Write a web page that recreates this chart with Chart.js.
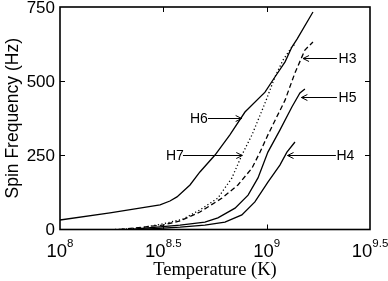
<!DOCTYPE html>
<html>
<head>
<meta charset="utf-8">
<script src="https://cdn.jsdelivr.net/npm/chart.js@4/dist/chart.umd.min.js"></script>
<style>
  html, body { margin: 0; padding: 0; background: #fff; }
  #wrap { width: 388px; height: 281px; }
</style>
</head>
<body>
<div id="wrap"><canvas id="chart" width="388" height="281"></canvas></div>
<script>
// x values are log10 of temperature in K, y values are spin frequency in Hz
const h6Temp = [8.0, 8.242, 8.484, 8.532, 8.566, 8.629, 8.677, 8.75, 8.822, 8.895, 8.992, 9.04, 9.089, 9.122, 9.147, 9.224];
const h6Freq = [32, 56, 83, 96, 110, 150, 194, 251, 319, 396, 463, 514, 565, 615, 642, 733];

const h7Temp = [8.266, 8.387, 8.498, 8.595, 8.677, 8.764, 8.832, 8.88, 8.929, 8.992, 9.04, 9.079, 9.122, 9.142];
const h7Freq = [0, 5, 19, 35, 66, 106, 174, 251, 319, 426, 514, 571, 615, 628];

const h3Temp = [8.29, 8.498, 8.581, 8.677, 8.784, 8.861, 8.929, 8.968, 9.006, 9.089, 9.137, 9.185, 9.224];
const h3Freq = [0, 15, 29, 59, 106, 150, 207, 261, 319, 436, 528, 605, 632];

const h5Temp = [8.339, 8.581, 8.701, 8.764, 8.847, 8.91, 8.958, 9.006, 9.064, 9.122, 9.161, 9.185];
const h5Freq = [0, 15, 25, 39, 72, 116, 174, 261, 335, 413, 460, 474];

const h4Temp = [8.387, 8.581, 8.701, 8.798, 8.88, 8.943, 9.006, 9.064, 9.098, 9.137];
const h4Freq = [0, 8, 15, 25, 49, 93, 160, 217, 261, 295];

const xTicks = [8, 8.5, 9, 9.5];
const xTickExp = ['8', '8.5', '9', '9.5'];
const yTicks = [0, 250, 500, 750];

// labels with arrows: text position, arrow start and end (log10 K), height (Hz)
const notes = [
  { name: 'H6', tx: 8.672, from: 8.716, to: 8.879, y: 375 },
  { name: 'H7', tx: 8.556, from: 8.595, to: 8.882, y: 250 },
  { name: 'H3', tx: 9.391, from: 9.340, to: 9.176, y: 577 },
  { name: 'H5', tx: 9.391, from: 9.340, to: 9.168, y: 446 },
  { name: 'H4', tx: 9.381, from: 9.335, to: 9.101, y: 250 }
];

const pts = (xs, ys) => xs.map((x, i) => ({ x: x, y: ys[i] }));

const line = (label, xs, ys, dash) => ({
  label: label,
  data: pts(xs, ys),
  borderColor: '#000',
  borderWidth: 1.3,
  borderDash: dash,
  pointRadius: 0,
  fill: false,
  tension: 0
});

const sans = '"Liberation Sans", Arial, sans-serif';

const frame = {
  id: 'frame',
  afterDraw(chart) {
    const { ctx, chartArea: a, scales: { x, y } } = chart;
    ctx.save();
    ctx.strokeStyle = '#000';
    ctx.fillStyle = '#000';

    // box and inward ticks
    ctx.lineWidth = 1.6;
    ctx.strokeRect(a.left, a.top, a.right - a.left, a.bottom - a.top);
    ctx.lineWidth = 1;
    ctx.beginPath();
    yTicks.slice(1, -1).forEach(v => {
      const py = Math.round(y.getPixelForValue(v)) + 0.5;
      ctx.moveTo(a.left, py); ctx.lineTo(a.left + 5, py);
      ctx.moveTo(a.right, py); ctx.lineTo(a.right - 5, py);
    });
    xTicks.slice(1, -1).forEach(v => {
      const px = Math.round(x.getPixelForValue(v)) + 0.5;
      ctx.moveTo(px, a.bottom); ctx.lineTo(px, a.bottom - 5);
      ctx.moveTo(px, a.top); ctx.lineTo(px, a.top + 5);
    });
    ctx.stroke();

    // y tick labels
    ctx.font = '17px ' + sans;
    ctx.textAlign = 'right';
    ctx.textBaseline = 'middle';
    yTicks.forEach(v => ctx.fillText(String(v), a.left - 5, y.getPixelForValue(v) + 1));

    // x tick labels, 10 with a raised exponent
    ctx.textAlign = 'left';
    ctx.textBaseline = 'alphabetic';
    xTicks.forEach((v, i) => {
      ctx.font = '18.5px ' + sans;
      const wBase = ctx.measureText('10').width;
      ctx.font = '11.5px ' + sans;
      const wExp = ctx.measureText(xTickExp[i]).width;
      const left = x.getPixelForValue(v) - (wBase + wExp) / 2;
      ctx.font = '18.5px ' + sans;
      ctx.fillText('10', left, a.bottom + 27.5);
      ctx.font = '11.5px ' + sans;
      ctx.fillText(xTickExp[i], left + wBase, a.bottom + 17.5);
    });

    // axis titles
    ctx.font = '18.5px "Liberation Serif", "Times New Roman", serif';
    ctx.textAlign = 'center';
    ctx.fillText('Temperature (K)', (a.left + a.right) / 2, 275);
    ctx.save();
    ctx.translate(13, (a.top + a.bottom) / 2);
    ctx.rotate(-Math.PI / 2);
    ctx.font = '17.5px ' + sans;
    ctx.textBaseline = 'middle';
    ctx.fillText('Spin Frequency (Hz)', 0, 0);
    ctx.restore();

    // curve labels with arrows
    ctx.lineWidth = 1;
    notes.forEach(n => {
      const py = Math.round(y.getPixelForValue(n.y)) + 0.5;
      const x0 = x.getPixelForValue(n.from);
      const x1 = x.getPixelForValue(n.to);
      const dir = x1 > x0 ? 1 : -1;
      ctx.beginPath();
      ctx.moveTo(x0, py); ctx.lineTo(x1, py);
      ctx.moveTo(x1 - dir * 6, py - 3); ctx.lineTo(x1, py); ctx.lineTo(x1 - dir * 6, py + 3);
      ctx.stroke();
      ctx.font = '14px ' + sans;
      ctx.textAlign = 'center';
      ctx.textBaseline = 'middle';
      ctx.fillText(n.name, x.getPixelForValue(n.tx), py + 0.5);
    });
    ctx.restore();
  }
};

new Chart(document.getElementById('chart'), {
  type: 'line',
  data: {
    datasets: [
      line('H6', h6Temp, h6Freq, []),
      line('H7', h7Temp, h7Freq, [1.2, 2.4]),
      line('H3', h3Temp, h3Freq, [5, 3]),
      line('H5', h5Temp, h5Freq, []),
      line('H4', h4Temp, h4Freq, [])
    ]
  },
  options: {
    responsive: false,
    animation: false,
    devicePixelRatio: 1,
    layout: { padding: { left: 60, right: 18, top: 7, bottom: 51.5 } },
    plugins: { legend: { display: false }, tooltip: { enabled: false } },
    scales: {
      x: { type: 'linear', min: 8, max: 9.5, display: false },
      y: { type: 'linear', min: 0, max: 750, display: false }
    }
  },
  plugins: [frame]
});
</script>
</body>
</html>
